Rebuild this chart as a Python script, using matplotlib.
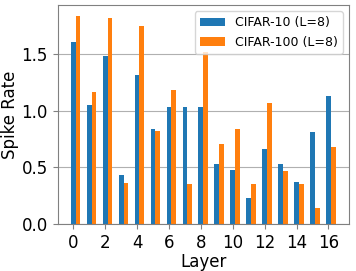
import matplotlib.pyplot as plt
import numpy as np

layers = np.arange(17)
cifar10 = [1.61, 1.05, 1.48, 0.43, 1.32, 0.84, 1.03, 1.03, 1.03, 0.53, 0.48, 0.23, 0.66, 0.53, 0.37, 0.81, 1.13]
cifar100 = [1.84, 1.17, 1.82, 0.36, 1.75, 0.82, 1.18, 0.35, 1.52, 0.71, 0.84, 0.35, 1.07, 0.47, 0.35, 0.14, 0.68]

plt.rcParams['font.size'] = 12
fig = plt.figure(figsize=(3.56, 2.71), dpi=100)
ax = fig.add_axes([0.162, 0.173, 0.818, 0.808])
w = 0.3
ax.bar(layers, cifar10, w, label='CIFAR-10 (L=8)')
ax.bar(layers + w, cifar100, w, label='CIFAR-100 (L=8)')
ax.set_xticks(np.arange(0, 17, 2))
ax.set_yticks([0.0, 0.5, 1.0, 1.5])
ax.yaxis.grid(True, color='#b0b0b0')
ax.set_axisbelow(True)
for s in ax.spines.values():
    s.set_color('#808080')
ax.tick_params(color='#808080')
ax.set_xlabel('Layer', labelpad=1)
ax.set_ylabel('Spike Rate', labelpad=2)
ax.legend(loc='upper right', fontsize=9)
fig.savefig('out.png')
